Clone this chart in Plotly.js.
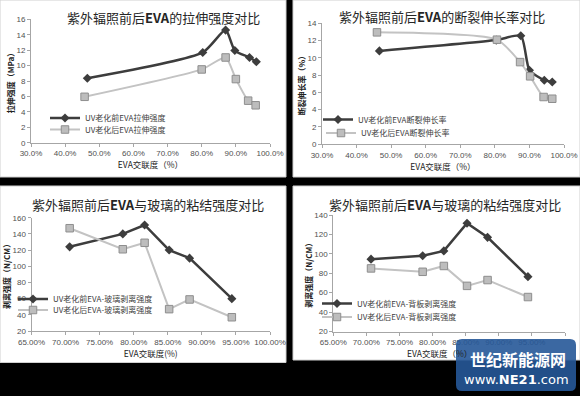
<!DOCTYPE html>
<html>
<head>
<meta charset="utf-8">
<script src="https://cdn.plot.ly/plotly-3.0.1.min.js"></script>
<style>html,body{margin:0;padding:0;background:#000;}#chart{width:580px;height:396px;}</style>
</head>
<body>
<div id="chart"></div>
<script>
// ---------- data ----------
const tensileXBefore = [0.465, 0.803, 0.870, 0.897, 0.940, 0.960];
const tensileBefore  = [8.35, 11.7, 14.6, 11.95, 11.05, 10.5];
const tensileXAfter  = [0.457, 0.800, 0.870, 0.900, 0.936, 0.958];
const tensileAfter   = [5.95, 9.5, 11.05, 8.25, 5.45, 4.85];

const elongXBefore = [0.466, 0.804, 0.875, 0.900, 0.943, 0.966];
const elongBefore  = [10.8, 12.05, 12.55, 8.55, 7.4, 7.2];
const elongXAfter  = [0.459, 0.806, 0.873, 0.902, 0.941, 0.966];
const elongAfter   = [12.95, 12.1, 9.5, 7.85, 5.45, 5.25];

const glassX      = [0.706, 0.784, 0.816, 0.852, 0.882, 0.944];
const glassBefore = [124, 140, 151, 120, 110, 60];
const glassAfter  = [147, 121, 129, 47, 59, 37];

const backX      = [0.707, 0.785, 0.817, 0.852, 0.883, 0.944];
const backBefore = [94.5, 98, 103, 131.5, 117, 76.5];
const backAfter  = [85, 81.5, 87.5, 67, 73, 55.5];

const titles = [
  '紫外辐照前后<b>EVA</b>的拉伸强度对比',
  '紫外辐照前后<b>EVA</b>的断裂伸长率对比',
  '紫外辐照前后<b>EVA</b>与玻璃的粘结强度对比',
  '紫外辐照前后<b>EVA</b>与玻璃的粘结强度对比'
];
const yTitles = ['拉伸强度（MPa）', '断裂伸长率（%）', '剥离强度（N/CM）', '剥离强度（N/CM）'];
const xTitles = ['EVA交联度（%）', 'EVA交联度（%）', 'EVA交联度(%)', 'EVA交联度（%）'];
const legendNames = [
  ['UV老化前EVA拉伸强度', 'UV老化后EVA拉伸强度'],
  ['UV老化前EVA断裂伸长率', 'UV老化后EVA断裂伸长率'],
  ['UV老化前EVA-玻璃剥离强度', 'UV老化后EVA-玻璃剥离强度'],
  ['UV老化前EVA-背板剥离强度', 'UV老化后EVA-背板剥离强度']
];

// ---------- layout helpers ----------
const W = 580, H = 396;
const fx = p => p / W;
const fy = p => 1 - p / H;
const CJK = '"Noto Sans CJK SC", "Noto Sans", sans-serif';
const TICK = '"Liberation Sans", "DejaVu Sans", sans-serif';

const darkLine = {color: '#3d3d3d', width: 2.5};
const darkMarker = {symbol: 'diamond', size: 7, color: '#3d3d3d'};
const lightLine = {color: '#c3c3c3', width: 2};
const lightMarker = {symbol: 'square', size: 7.5, color: '#bdbdbd', line: {color: '#8e8e8e', width: 1}};

function mk(x, y, ax, name, leg, dark, smooth) {
  const line = Object.assign({}, dark ? darkLine : lightLine);
  if (smooth) { line.shape = 'spline'; line.smoothing = 0.6; }
  return {
    x: x, y: y, xaxis: 'x' + (ax === 1 ? '' : ax), yaxis: 'y' + (ax === 1 ? '' : ax),
    name: name, legend: leg, showlegend: true, type: 'scatter', mode: 'lines+markers',
    line: line, marker: dark ? darkMarker : lightMarker, hoverinfo: 'skip'
  };
}

const data = [
  mk(tensileXBefore, tensileBefore, 1, legendNames[0][0], 'legend', true, true),
  mk(tensileXAfter, tensileAfter, 1, legendNames[0][1], 'legend2', false, true),
  mk(elongXBefore, elongBefore, 2, legendNames[1][0], 'legend3', true, true),
  mk(elongXAfter, elongAfter, 2, legendNames[1][1], 'legend4', false, true),
  mk(glassX, glassBefore, 3, legendNames[2][0], 'legend5', true, false),
  mk(glassX, glassAfter, 3, legendNames[2][1], 'legend6', false, false),
  mk(backX, backBefore, 4, legendNames[3][0], 'legend7', true, false),
  mk(backX, backAfter, 4, legendNames[3][1], 'legend8', false, false)
];

// plot areas in pixels: [x0, x1, yTop, yBottom]
const areas = [
  [31, 270, 19.3, 142.7],
  [322, 564, 23.3, 144],
  [31.5, 270, 217.7, 331],
  [333.3, 565, 215, 331.5]
];
const xRanges = [[0.3, 1.0], [0.3, 1.0], [0.65, 1.0], [0.65, 1.0]];
const xDtick = [0.1, 0.1, 0.05, 0.05];
const xFmt = ['.1%', '.1%', '.2%', '.2%'];
const yRanges = [[0, 16], [0, 14], [20, 160], [20, 140]];
const yDtick = [2, 2, 20, 20];

const layout = {
  width: W, height: H,
  margin: {l: 0, r: 0, t: 0, b: 0},
  paper_bgcolor: '#000000',
  plot_bgcolor: 'rgba(0,0,0,0)',
  font: {family: CJK, color: '#404040'},
  showlegend: true,
  shapes: [], annotations: []
};

for (let i = 0; i < 4; i++) {
  const s = i === 0 ? '' : String(i + 1);
  const a = areas[i];
  layout['xaxis' + s] = {
    domain: [fx(a[0]), fx(a[1])], anchor: 'y' + s,
    range: xRanges[i], dtick: xDtick[i], tick0: xRanges[i][0], tickformat: xFmt[i],
    showgrid: false, zeroline: false, showline: true, linecolor: '#a6a6a6', linewidth: 1,
    ticks: 'outside', ticklen: 3, tickcolor: '#a6a6a6',
    tickfont: {family: TICK, size: 8, color: '#505050'},
    title: {text: i === 3 ? '' : xTitles[i], font: {family: CJK, size: 8.5, color: '#222'}, standoff: 4},
    automargin: false, fixedrange: true
  };
  layout['yaxis' + s] = {
    domain: [fy(a[3]), fy(a[2])], anchor: 'x' + s,
    range: yRanges[i], dtick: yDtick[i],
    showgrid: false, zeroline: false, showline: true, linecolor: '#a6a6a6', linewidth: 1,
    ticks: 'outside', ticklen: 3, tickcolor: '#a6a6a6',
    tickfont: {family: TICK, size: 8, color: '#505050'},
    title: {text: '<b>' + yTitles[i] + '</b>', font: {family: CJK, size: 8, color: '#222'}, standoff: 0},
    automargin: false, fixedrange: true
  };
}

// the 4th x title sits left of centre in the reference (partly under the watermark)
layout.annotations.push({
  text: xTitles[3], xref: 'paper', yref: 'paper', x: fx(439), y: fy(352.5),
  xanchor: 'center', yanchor: 'middle', showarrow: false,
  font: {family: CJK, size: 8.5, color: '#222'}
});

// white chart panels on black background
const panels = [[0, 0, 286, 177], [293, 0, 580, 177], [0, 186, 286, 362.5], [293, 186, 580, 360]];
panels.forEach(p => layout.shapes.push({
  type: 'rect', xref: 'paper', yref: 'paper', layer: 'below',
  x0: fx(p[0]), x1: fx(p[2]), y0: fy(p[3]), y1: fy(p[1]),
  fillcolor: '#ffffff', line: {color: '#d0d0d0', width: 1}
}));

// chart titles
const titlePos = [[163, 17], [442, 16], [148, 204], [445, 204]];
titles.forEach((t, i) => layout.annotations.push({
  text: t, xref: 'paper', yref: 'paper', x: fx(titlePos[i][0]), y: fy(titlePos[i][1]),
  xanchor: 'center', yanchor: 'middle', showarrow: false,
  font: {family: CJK, size: 13, color: '#262626'}
}));

// legends (one per entry), position = [text start x, center y]
const legPos = [[85, 118], [85, 129.5], [358, 119.5], [361, 133], [53, 299], [53, 310], [357, 303.5], [357, 317]];
legPos.forEach((p, i) => {
  const key = i === 0 ? 'legend' : 'legend' + (i + 1);
  layout[key] = {
    x: fx(p[0] - 40), xanchor: 'left', y: fy(p[1]), yanchor: 'middle',
    bgcolor: 'rgba(0,0,0,0)', borderwidth: 0, visible: true,
    font: {family: CJK, size: 8, color: '#404040'}, itemwidth: 30
  };
});

// watermark
(function () {
  const x0 = 456, x1 = 576, y0 = 339, y1 = 391, r = 6;
  const P = (x, y) => fx(x) + ',' + fy(y);
  const path = 'M' + P(x0 + r, y0) + ' L' + P(x1 - r, y0) + ' Q' + P(x1, y0) + ' ' + P(x1, y0 + r) +
    ' L' + P(x1, y1 - r) + ' Q' + P(x1, y1) + ' ' + P(x1 - r, y1) +
    ' L' + P(x0 + r, y1) + ' Q' + P(x0, y1) + ' ' + P(x0, y1 - r) +
    ' L' + P(x0, y0 + r) + ' Q' + P(x0, y0) + ' ' + P(x0 + r, y0) + ' Z';
  layout.shapes.push({type: 'path', xref: 'paper', yref: 'paper', layer: 'above', path: path,
    fillcolor: 'rgba(38,88,152,0.9)', line: {width: 0}});
  layout.annotations.push({text: '<b>世纪新能源网</b>', xref: 'paper', yref: 'paper',
    x: fx(518), y: fy(358.5), xanchor: 'center', yanchor: 'middle', showarrow: false,
    font: {family: CJK, size: 16, color: '#ffffff'}});
  layout.annotations.push({text: 'www.<b>NE21</b>.com', xref: 'paper', yref: 'paper',
    x: fx(516), y: fy(379.5), xanchor: 'center', yanchor: 'middle', showarrow: false,
    font: {family: '"DejaVu Sans", sans-serif', size: 13, color: '#ffffff'}});
})();

Plotly.newPlot('chart', data, layout, {displayModeBar: false, staticPlot: true});
</script>
</body>
</html>
